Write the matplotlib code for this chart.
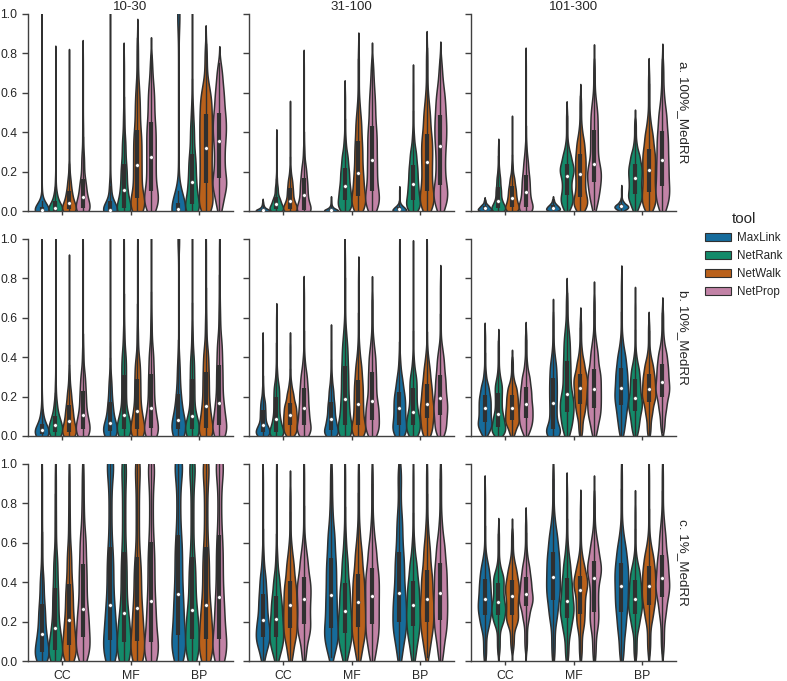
import math
import numpy as np
import matplotlib
matplotlib.use("Agg")
import matplotlib.pyplot as plt
from matplotlib.patches import Patch
import seaborn as sns

# categories
tools = ["MaxLink", "NetRank", "NetWalk", "NetProp"]
terms = ["CC", "MF", "BP"]
sizes = ["10-30", "31-100", "101-300"]
cutoffs = ["a. 100%_MedRR", "b. 10%_MedRR", "c. 1%_MedRR"]

probs = [0.0, 0.10, 0.25, 0.50, 0.75, 0.90, 0.95, 1.0]

# a. 100%_MedRR -- rows: CC(MaxLink..NetProp), MF(...), BP(...)
q_a_10_30 = [
    [0, 0, 0, .005, .02, .05, .10, 1.0],
    [0, 0, .002, .017, .05, .10, .17, .79],
    [0, 0, .008, .04, .10, .17, .25, .77],
    [0, .002, .015, .07, .16, .30, .45, .80],
    [0, 0, 0, .007, .05, .15, .30, 1.0],
    [0, 0, .015, .105, .24, .38, .50, .78],
    [0, .02, .065, .235, .41, .58, .66, .88],
    [0, .04, .10, .275, .45, .60, .66, .79],
    [0, 0, 0, .008, .04, 1.0, 1.0, 1.0],
    [0, .005, .035, .145, .29, .45, .55, .96],
    [0, .04, .14, .32, .49, .60, .66, .85],
    [0, .10, .17, .355, .50, .62, .68, .75],
]
q_a_31_100 = [
    [0, 0, 0, .005, .012, .025, .035, .05],
    [0, .002, .01, .034, .07, .13, .18, .385],
    [0, .004, .012, .05, .117, .17, .22, .52],
    [0, .002, .007, .08, .165, .24, .33, .76],
    [0, 0, 0, .005, .012, .025, .04, .063],
    [0, .02, .054, .125, .22, .30, .37, .61],
    [0, .03, .075, .195, .354, .48, .56, .825],
    [0, .04, .10, .26, .43, .58, .65, .766],
    [0, 0, .003, .012, .022, .035, .05, .114],
    [0, .02, .054, .136, .236, .32, .40, .685],
    [0, .04, .10, .25, .39, .52, .60, .83],
    [0, .06, .13, .33, .486, .60, .66, .77],
]
q_a_101_300 = [
    [0, .002, .006, .014, .025, .035, .045, .058],
    [0, .005, .014, .05, .12, .18, .22, .334],
    [0, .008, .02, .066, .125, .18, .24, .447],
    [0, .008, .02, .097, .185, .27, .34, .77],
    [0, .003, .008, .017, .028, .04, .05, .063],
    [0, .04, .08, .178, .24, .30, .35, .51],
    [0, .03, .07, .186, .29, .37, .43, .585],
    [.01, .08, .147, .237, .41, .52, .58, .77],
    [0, .008, .015, .024, .035, .05, .065, .12],
    [0, .05, .088, .168, .24, .30, .35, .47],
    [0, .04, .097, .21, .317, .41, .48, .71],
    [0, .06, .127, .26, .405, .52, .60, .77],
]

# b. 10%_MedRR
q_b_10_30 = [
    [0, .002, .01, .029, .06, .12, .20, 1.0],
    [0, .005, .02, .054, .10, .18, .28, 1.0],
    [0, .006, .02, .076, .156, .24, .33, .86],
    [0, .01, .037, .105, .23, .33, .45, 1.0],
    [0, .005, .025, .066, .173, .30, .50, 1.0],
    [0, .01, .037, .108, .31, .43, .55, 1.0],
    [0, .01, .037, .127, .29, .40, .55, 1.0],
    [0, .012, .04, .14, .317, .45, .60, 1.0],
    [0, .008, .034, .083, .215, .40, 1.0, 1.0],
    [0, .008, .034, .10, .29, .42, .55, 1.0],
    [0, .01, .04, .15, .325, .45, .60, 1.0],
    [0, .015, .054, .168, .36, .50, .65, 1.0],
]
q_b_31_100 = [
    [0, .005, .02, .054, .134, .19, .25, .486],
    [0, .008, .02, .088, .20, .27, .34, .62],
    [0, .02, .054, .108, .168, .23, .28, .486],
    [0, .02, .054, .14, .246, .33, .40, .75],
    [0, .01, .03, .088, .173, .25, .31, .52],
    [0, .02, .054, .186, .354, .48, .56, .925],
    [0, .02, .054, .164, .283, .38, .46, .84],
    [0, .03, .083, .176, .325, .43, .50, .74],
    [0, .02, .054, .14, .224, .31, .40, 1.0],
    [0, .02, .054, .122, .246, .32, .40, .925],
    [0, .03, .09, .164, .266, .36, .43, .986],
    [0, .04, .105, .193, .31, .41, .47, .80],
]
q_b_101_300 = [
    [0, .04, .07, .14, .21, .27, .33, .53],
    [0, .02, .046, .11, .22, .28, .33, .495],
    [0, .05, .083, .142, .21, .26, .30, .40],
    [.005, .05, .093, .164, .25, .32, .38, .53],
    [0, .015, .034, .17, .295, .38, .44, .63],
    [0, .06, .122, .212, .38, .50, .56, .727],
    [0, .10, .164, .246, .317, .39, .45, .60],
    [0, .08, .142, .24, .34, .44, .50, .72],
    [0, .08, .156, .244, .346, .43, .50, .80],
    [0, .06, .125, .193, .29, .36, .42, .70],
    [0, .10, .173, .24, .317, .38, .43, .58],
    [.02, .12, .198, .275, .368, .44, .50, .647],
]

# c. 1%_MedRR
q_c_10_30 = [
    [0, .015, .046, .139, .29, .45, .65, 1.0],
    [0, .02, .058, .168, .373, .55, .75, 1.0],
    [0, .03, .08, .207, .393, .58, .75, 1.0],
    [0, .05, .12, .266, .49, .66, .80, 1.0],
    [0, .04, .105, .283, .58, 1.0, 1.0, 1.0],
    [0, .03, .097, .246, .554, .90, 1.0, 1.0],
    [0, .03, .10, .27, .53, .90, 1.0, 1.0],
    [0, .03, .097, .305, .605, .95, 1.0, 1.0],
    [0, .05, .13, .342, .64, 1.0, 1.0, 1.0],
    [0, .04, .114, .26, .53, .95, 1.0, 1.0],
    [0, .04, .114, .283, .58, .95, 1.0, 1.0],
    [0, .04, .114, .325, .64, 1.0, 1.0, 1.0],
]
q_c_31_100 = [
    [0, .08, .122, .21, .342, .45, .55, .96],
    [0, .07, .12, .215, .33, .44, .55, 1.0],
    [0, .10, .17, .283, .405, .52, .60, .89],
    [0, .12, .186, .314, .427, .54, .62, 1.0],
    [.02, .10, .17, .337, .525, .68, .80, 1.0],
    [0, .08, .142, .254, .397, .54, .65, 1.0],
    [0, .10, .173, .30, .444, .58, .68, 1.0],
    [0, .10, .186, .33, .47, .60, .70, 1.0],
    [0, .12, .20, .347, .554, .75, .90, 1.0],
    [0, .10, .176, .283, .407, .52, .62, 1.0],
    [.02, .12, .20, .317, .46, .60, .70, 1.0],
    [0, .12, .21, .347, .495, .62, .72, 1.0],
]
q_c_101_300 = [
    [0, .16, .232, .314, .414, .49, .55, .876],
    [.034, .18, .232, .30, .397, .45, .50, .673],
    [.054, .18, .232, .33, .41, .48, .53, .668],
    [.049, .20, .278, .342, .427, .50, .56, .724],
    [0, .20, .308, .427, .554, .66, .74, 1.0],
    [0, .14, .22, .305, .42, .52, .60, .885],
    [.01, .16, .24, .36, .43, .50, .56, .805],
    [0, .16, .25, .42, .51, .60, .66, .863],
    [0, .14, .25, .38, .50, .60, .68, 1.0],
    [.01, .16, .237, .317, .41, .48, .54, .805],
    [.03, .20, .286, .38, .48, .56, .63, .98],
    [.04, .22, .325, .42, .54, .66, .74, 1.0],
]

panels = [
    [q_a_10_30, q_a_31_100, q_a_101_300],
    [q_b_10_30, q_b_31_100, q_b_101_300],
    [q_c_10_30, q_c_31_100, q_c_101_300],
]

plt.rcParams["font.family"] = ["Liberation Sans", "DejaVu Sans"]
# old seaborn "colorblind" colours, desaturated like seaborn violins
palette = [sns.desaturate(c, 0.75) for c in ["#0072B2", "#009E73", "#D55E00", "#CC79A7"]]
gray = "#303030"
text_col = "#262626"
LW = 1.0
BW = 0.22
_erf = np.vectorize(math.erf)


def ncdf(z):
    return 0.5 * (1 + _erf(z / math.sqrt(2)))


def violin_stats(qs):
    # smoothed density of the piecewise distribution given by the quantiles
    qs = np.asarray(qs, float)
    mass = np.diff(probs)
    lo, hi = qs[:-1], qs[1:]
    mid = (lo + hi) / 2
    mean = np.sum(mass * mid)
    std = np.sqrt(max(np.sum(mass * ((hi - lo) ** 2 / 12 + mid ** 2)) - mean ** 2, 1e-8))
    bw = max(BW * std, 0.006)
    y = np.linspace(qs[0] - 2 * bw, qs[-1] + 2 * bw, 300)
    dens = np.zeros_like(y)
    for m, a, b in zip(mass, lo, hi):
        if b - a < 1e-6:
            dens += m * np.exp(-0.5 * ((y - a) / bw) ** 2) / (bw * math.sqrt(2 * math.pi))
        else:
            dens += m * (ncdf((y - a) / bw) - ncdf((y - b) / bw)) / (b - a)
    return {"coords": y, "vals": dens, "mean": mean, "median": qs[3],
            "min": qs[0], "max": qs[-1]}


fig = plt.figure(figsize=(7.87, 6.81), dpi=100)
W, H = 787, 681
col_left = [28, 249, 471]
row_top = [14, 239, 464]
aw, ah = 205, 197
offsets = [-0.3, -0.1, 0.1, 0.3]

for r in range(3):
    for c in range(3):
        ax = fig.add_axes([col_left[c] / W, (H - row_top[r] - ah) / H, aw / W, ah / H])
        q = panels[r][c]
        for i in range(len(terms)):
            for j in range(len(tools)):
                qs = q[i * 4 + j]
                pos = i + offsets[j]
                st = violin_stats(qs)
                parts = ax.violin([st], positions=[pos], widths=0.2,
                                  showmeans=False, showextrema=False, showmedians=False)
                for b in parts["bodies"]:
                    b.set_facecolor(palette[j])
                    b.set_edgecolor(gray)
                    b.set_alpha(1)
                    b.set_linewidth(LW * 1.1)
                q1, med, q3 = qs[2], qs[3], qs[4]
                iqr = q3 - q1
                w_lo = max(qs[0], q1 - 1.5 * iqr)
                w_hi = min(qs[-1], q3 + 1.5 * iqr)
                ax.plot([pos, pos], [w_lo, w_hi], color=gray, lw=LW, zorder=2)
                ax.plot([pos, pos], [q1, q3], color=gray, lw=LW * 3, zorder=2,
                        solid_capstyle="butt")
                ax.scatter([pos], [med], s=7, color="white",
                           edgecolor=gray, linewidth=0.3, zorder=3)

        ax.set_xlim(-0.5, 2.5)
        ax.set_ylim(0, 1)
        ax.set_xticks(range(len(terms)))
        ax.set_xticklabels(terms)
        ax.set_yticks(np.arange(0, 1.01, 0.2))
        ax.set_yticklabels(["%.1f" % v for v in np.arange(0, 1.01, 0.2)])
        for s in ["top", "right"]:
            ax.spines[s].set_visible(False)
        for s in ["left", "bottom"]:
            ax.spines[s].set_color("#404040")
            ax.spines[s].set_linewidth(1.0)
        ax.tick_params(axis="y", direction="out", length=4.3, width=1.0, color="#404040",
                       labelcolor=text_col, labelsize=8.8, pad=3.5)
        ax.tick_params(axis="x", direction="out", length=3, width=1.0, color="#404040",
                       labelcolor=text_col, labelsize=8.8, pad=3.5)
        if r < 2:
            ax.tick_params(labelbottom=False)
        if c > 0:
            ax.tick_params(labelleft=False)
        if r == 0:
            ax.set_title(sizes[c], fontsize=9.6, color=text_col, pad=3)
        if c == 2:
            ax.text(1.034, 0.5, cutoffs[r], transform=ax.transAxes, rotation=270,
                    ha="center", va="center", fontsize=9.6, color=text_col)

handles = [Patch(facecolor=palette[j], edgecolor=gray, linewidth=LW * 0.8) for j in range(4)]
leg = fig.legend(handles, tools, title="tool", loc="center left",
                 bbox_to_anchor=(699 / W, 1 - 255 / H), frameon=False,
                 fontsize=8.4, title_fontsize=11, borderpad=0,
                 handlelength=2.2, handletextpad=0.55, labelspacing=0.5)
for t in leg.get_texts():
    t.set_color(text_col)
leg.get_title().set_color(text_col)

fig.savefig("out.png", dpi=100)
